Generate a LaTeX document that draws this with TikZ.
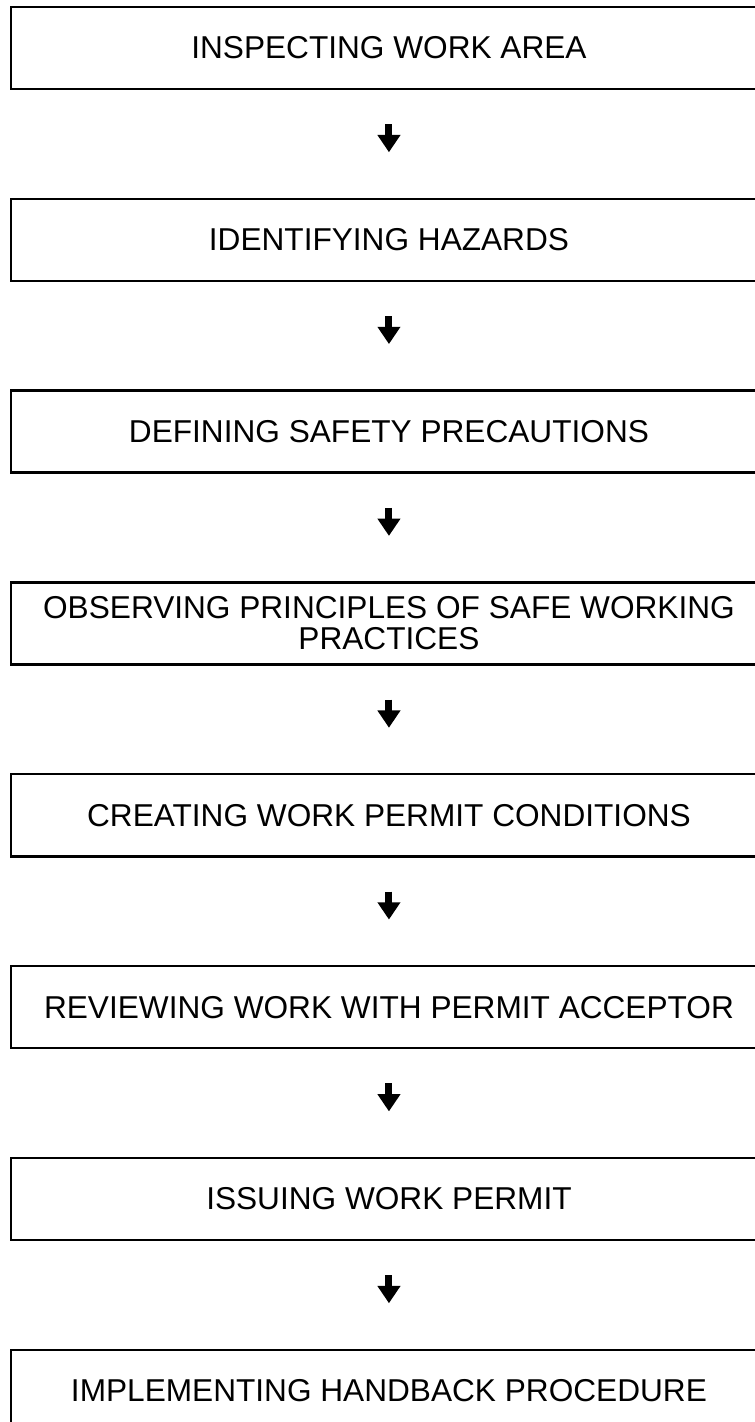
\documentclass[tikz,border=0pt]{standalone}
\usepackage{fontspec}
\setmainfont{Liberation Sans}
\usetikzlibrary{arrows.meta}

\begin{document}
\begin{tikzpicture}[
    stepbox/.style={draw, line width=1.8pt, minimum width=20cm, minimum height=2.17cm,
      align=center, inner sep=0pt, font=\fontsize{23.8pt}{23.3pt}\selectfont},
    flowarrow/.style={line width=5.25pt, -{Triangle[width=16.5pt, length=13pt]},
      shorten <=0.9cm, shorten >=1.2cm}
  ]
  \useasboundingbox (0,0) rectangle (19.95,37.62);

  % 8 steps of the permit procedure
  \node[stepbox] (s1) at (10.29,36.35) {INSPECTING WORK AREA};
  \node[stepbox] (s2) at (10.29,31.275) {IDENTIFYING HAZARDS};
  \node[stepbox] (s3) at (10.29,26.2) {DEFINING SAFETY PRECAUTIONS};
  \node[stepbox] (s4) at (10.29,21.125) {OBSERVING PRINCIPLES OF SAFE WORKING\\PRACTICES};
  \node[stepbox] (s5) at (10.29,16.05) {CREATING WORK PERMIT CONDITIONS};
  \node[stepbox] (s6) at (10.29,10.975) {REVIEWING WORK WITH PERMIT ACCEPTOR};
  \node[stepbox] (s7) at (10.29,5.9) {ISSUING WORK PERMIT};
  \node[stepbox] (s8) at (10.29,0.825) {IMPLEMENTING HANDBACK PROCEDURE};

  % Draw the arrows between the steps
  \draw[flowarrow] (s1) -- (s2);
  \draw[flowarrow] (s2) -- (s3);
  \draw[flowarrow] (s3) -- (s4);
  \draw[flowarrow] (s4) -- (s5);
  \draw[flowarrow] (s5) -- (s6);
  \draw[flowarrow] (s6) -- (s7);
  \draw[flowarrow] (s7) -- (s8);
\end{tikzpicture}
\end{document}
